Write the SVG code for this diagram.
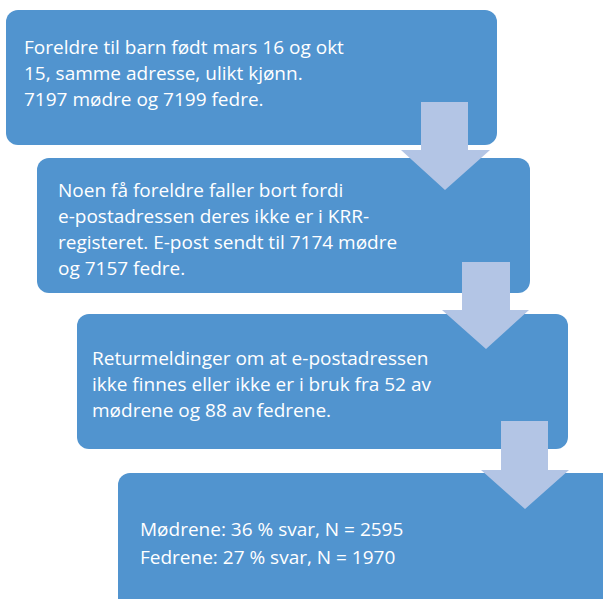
<svg xmlns="http://www.w3.org/2000/svg" width="603" height="599" viewBox="0 0 603 599">
<style>
.box{fill:#5194CF;}
.arr{fill:#B3C5E5;}
text{font-family:"Open Sans","Noto Sans",sans-serif;font-size:19px;fill:#FFFFFF;}
</style>
<rect width="603" height="599" fill="#FFFFFF"/>
<g id="node1">
<rect class="box" x="6" y="10" width="491" height="135" rx="12"/>
<text x="24" y="54">Foreldre til barn født mars 16 og okt</text>
<text x="24" y="80">15, samme adresse, ulikt kjønn.</text>
<text x="24" y="106">7197 mødre og 7199 fedre.</text>
</g>
<g id="node2">
<rect class="box" x="37" y="158" width="493" height="135" rx="12"/>
<text x="58" y="197">Noen få foreldre faller bort fordi</text>
<text x="58" y="223">e-postadressen deres ikke er i KRR-</text>
<text x="58" y="249">registeret. E-post sendt til 7174 mødre</text>
<text x="58" y="275">og 7157 fedre.</text>
</g>
<g id="node3">
<rect class="box" x="77" y="314" width="491" height="135" rx="12"/>
<text x="92" y="365">Returmeldinger om at e-postadressen</text>
<text x="92" y="391">ikke finnes eller ikke er i bruk fra 52 av</text>
<text x="92" y="417">mødrene og 88 av fedrene.</text>
</g>
<g id="node4">
<rect class="box" x="118" y="473" width="497" height="140" rx="12"/>
<text x="140" y="536">Mødrene: 36 % svar, N = 2595</text>
<text x="140" y="564">Fedrene: 27 % svar, N = 1970</text>
</g>
<g id="connectors">
<polygon class="arr" points="421,102 468,102 468,150 490,150 445,190 401,150 421,150"/>
<polygon class="arr" points="462,262 510,262 510,310 529,310 486,349 442,310 462,310"/>
<polygon class="arr" points="501,421 548,421 548,470 569,470 525,509 481,470 501,470"/>
</g>
</svg>
